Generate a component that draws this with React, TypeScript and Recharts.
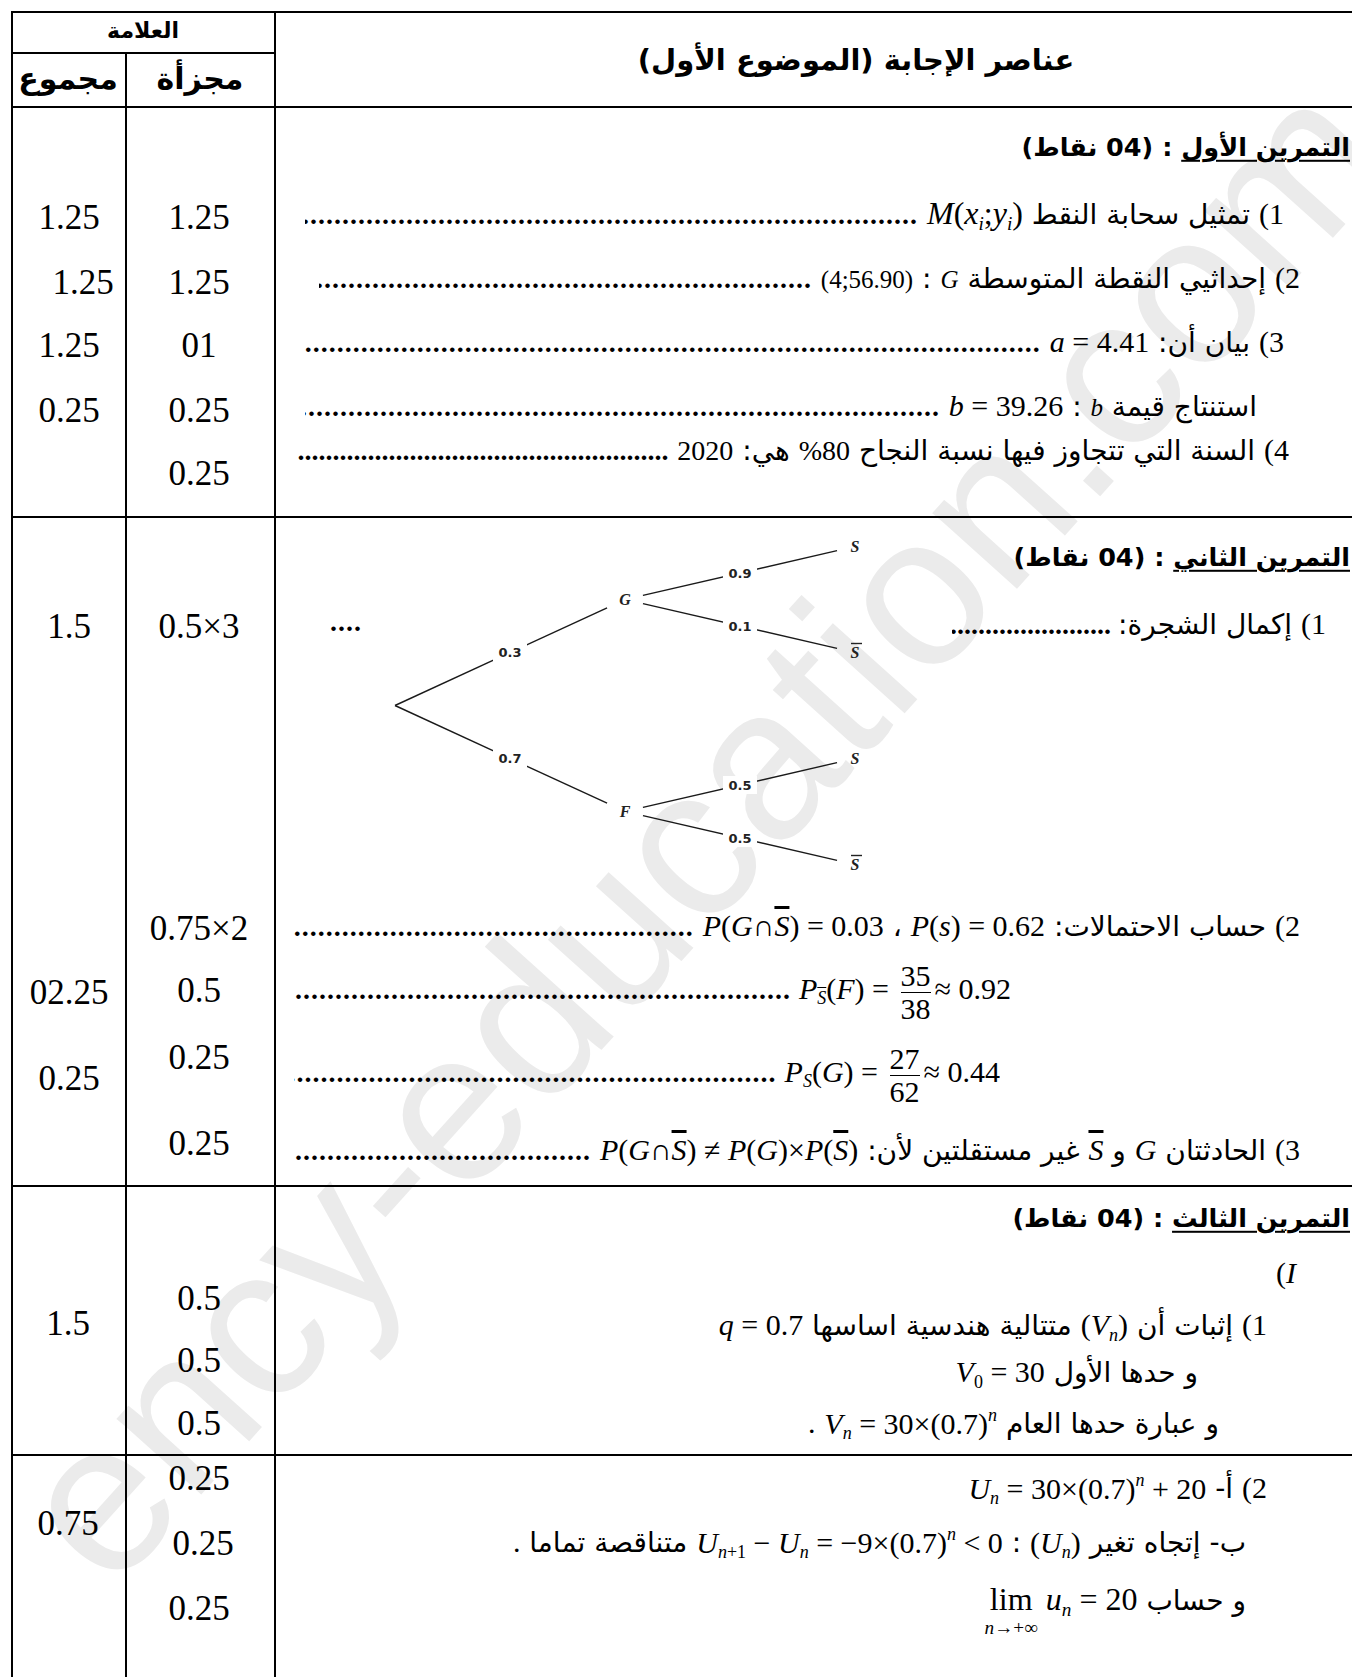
import React from 'react';
import { ComposedChart, XAxis, YAxis, ReferenceLine, Scatter } from 'recharts';

const W = 1352;
const H = 1677;

// ---------- grade values (left columns) ----------
const totalRow1 = ['1.25', '1.25', '1.25', '0.25'];
const partialRow1 = ['1.25', '1.25', '01', '0.25', '0.25'];
const totalRow2 = ['1.5', '02.25', '0.25'];
const partialRow2 = ['0.5×3', '0.75×2', '0.5', '0.25', '0.25'];
const totalRow3 = ['1.5'];
const partialRow3 = ['0.5', '0.5', '0.5'];
const totalRow4 = ['0.75'];
const partialRow4 = ['0.25', '0.25', '0.25'];

// ---------- probability tree ----------
const treeNodes = [
  { id: 'O', level: 0, pos: 0, name: '', bar: false },
  { id: 'G', level: 1, pos: 2, name: 'G', bar: false },
  { id: 'F', level: 1, pos: -2, name: 'F', bar: false },
  { id: 'GS', level: 2, pos: 3, name: 'S', bar: false },
  { id: 'GSb', level: 2, pos: 1, name: 'S', bar: true },
  { id: 'FS', level: 2, pos: -1, name: 'S', bar: false },
  { id: 'FSb', level: 2, pos: -3, name: 'S', bar: true },
];
const treeEdges = [
  { from: 'O', to: 'G', prob: '0.3' },
  { from: 'O', to: 'F', prob: '0.7' },
  { from: 'G', to: 'GS', prob: '0.9' },
  { from: 'G', to: 'GSb', prob: '0.1' },
  { from: 'F', to: 'FS', prob: '0.5' },
  { from: 'F', to: 'FSb', prob: '0.5' },
];

// ---------- layout (positions only) ----------
const yTotal1 = [217, 282, 345, 410];
const xTotal1 = [69, 83, 69, 69];
const yPartial1 = [217, 282, 345, 410, 473];
const yTotal2 = [626, 992, 1078];
const yPartial2 = [626, 928, 990, 1057, 1143];
const yTotal3 = [1323];
const yPartial3 = [1298, 1360, 1423];
const yTotal4 = [1523];
const yPartial4 = [1478, 1543, 1608];
const xPartial4 = [199, 203, 199];

const AR = '"DejaVu Sans", "Noto Sans", sans-serif';
const SERIF = '"Liberation Serif", "Times New Roman", serif';
const DOTS = '.'.repeat(240);
const AR_SIZE = 28;
const MATH_SIZE = 30;

const I = ({ children }: any) => <i style={{ fontFamily: SERIF }}>{children}</i>;
const Sub = ({ children }: any) => (
  <sub style={{ fontSize: '0.6em', verticalAlign: '-0.3em' }}>{children}</sub>
);
const Sup = ({ children }: any) => (
  <sup style={{ fontSize: '0.6em', verticalAlign: '0.7em' }}>{children}</sup>
);
const Over = ({ children }: any) => (
  <span style={{ textDecoration: 'overline' }}>
    <I>{children}</I>
  </span>
);
const M = ({ children, size = MATH_SIZE }: any) => (
  <span dir="ltr" style={{ fontFamily: SERIF, fontSize: size, whiteSpace: 'nowrap' }}>
    {children}
  </span>
);
const Num = ({ children }: any) => (
  <span style={{ fontFamily: SERIF, fontSize: MATH_SIZE }}>{children}</span>
);
const Frac = ({ n, d }: any) => (
  <span
    style={{
      display: 'inline-flex',
      flexDirection: 'column',
      alignItems: 'center',
      verticalAlign: 'middle',
      lineHeight: 1.05,
      margin: '0 4px',
    }}
  >
    <span>{n}</span>
    <span style={{ borderTop: '1.5px solid #000', width: '100%', height: 0 }} />
    <span>{d}</span>
  </span>
);

function HLine({ y, x1, x2 }: any) {
  return (
    <div style={{ position: 'absolute', left: x1, top: y - 1, width: x2 - x1, height: 2.2, background: '#000' }} />
  );
}
function VLine({ x, y1, y2 }: any) {
  return (
    <div style={{ position: 'absolute', left: x - 1, top: y1, width: 2.2, height: y2 - y1, background: '#000' }} />
  );
}
function Cell({ x, y, children, size = 35, style = {} }: any) {
  return (
    <div
      style={{
        position: 'absolute',
        left: x,
        top: y,
        transform: 'translate(-50%, -50%)',
        whiteSpace: 'nowrap',
        fontFamily: SERIF,
        fontSize: size,
        lineHeight: 1,
        ...style,
      }}
    >
      {children}
    </div>
  );
}
// RTL text line anchored at its right edge; optional dots fill until `left`
function TLine({ right, left, y, children, dots = false, size = AR_SIZE, style = {} }: any) {
  const base: React.CSSProperties = {
    position: 'absolute',
    top: y,
    transform: 'translateY(-50%)',
    direction: 'rtl',
    textAlign: 'right',
    whiteSpace: 'nowrap',
    fontFamily: AR,
    fontSize: size,
    lineHeight: 1.35,
    ...style,
  };
  if (left !== undefined) {
    base.left = left;
    base.width = right - left;
    base.overflow = 'hidden';
  } else {
    base.right = W - right;
  }
  return (
    <div style={base}>
      {children}
      {dots && (
        <span style={{ fontFamily: SERIF, fontSize: 28, fontWeight: 'bold', letterSpacing: 1 }}>
          {'  '}
          {DOTS}
        </span>
      )}
    </div>
  );
}
function Heading({ y, title }: any) {
  return (
    <TLine right={1350} y={y} size={25.5} style={{ fontWeight: 'bold' }}>
      <span style={{ textDecoration: 'underline', textUnderlineOffset: 4 }}>{title}</span>
      {' : (04 نقاط)'}
    </TLine>
  );
}

// ---------- tree chart ----------
const GAP = 0.078;
const nodeById = Object.fromEntries(treeNodes.map((n) => [n.id, n]));
const edgeSegments = treeEdges.map((e) => {
  const a = nodeById[e.from];
  const b = nodeById[e.to];
  const t0 = a.level === 0 ? 0 : GAP;
  const t1 = 1 - GAP;
  const lerp = (t: number) => ({ x: a.level + (b.level - a.level) * t, y: a.pos + (b.pos - a.pos) * t });
  const mid = lerp(0.5);
  return { seg: [lerp(t0), lerp(t1)], label: { x: mid.x, y: mid.y, prob: e.prob } };
});
const edgeLabels = edgeSegments.map((s) => s.label);
const nodePoints = treeNodes.filter((n) => n.name).map((n) => ({ x: n.level, y: n.pos, name: n.name, bar: n.bar }));

const ProbLabel = (props: any) => {
  const { cx, cy, payload } = props;
  return (
    <g>
      <rect x={cx - 17} y={cy - 9} width={34} height={18} fill="#fff" />
      <text
        x={cx}
        y={cy + 4.5}
        textAnchor="middle"
        fontFamily='"DejaVu Sans", sans-serif'
        fontWeight="bold"
        fontSize={13}
        fill="#222"
      >
        {payload.prob}
      </text>
    </g>
  );
};
const NodeLabel = (props: any) => {
  const { cx, cy, payload } = props;
  return (
    <g>
      <text
        x={cx}
        y={cy + 5.5}
        textAnchor="middle"
        fontFamily={SERIF}
        fontStyle="italic"
        fontWeight="bold"
        fontSize={16}
        fill="#222"
      >
        {payload.name}
      </text>
      {payload.bar && <line x1={cx - 4} x2={cx + 7} y1={cy - 9} y2={cy - 9} stroke="#222" strokeWidth={1.4} />}
    </g>
  );
};

function TreeChart() {
  return (
    <div style={{ position: 'absolute', left: 349, top: 519.5 }}>
      <ComposedChart width={552} height={371} margin={{ top: 0, right: 0, bottom: 0, left: 0 }}>
        <XAxis type="number" dataKey="x" domain={[-0.2, 2.2]} hide />
        <YAxis type="number" dataKey="y" domain={[-3.5, 3.5]} hide width={0} />
        {edgeSegments.map((s, i) => (
          <ReferenceLine key={i} segment={s.seg} stroke="#1a1a1a" strokeWidth={1.4} ifOverflow="visible" />
        ))}
        <Scatter data={edgeLabels} shape={ProbLabel} isAnimationActive={false} />
        <Scatter data={nodePoints} shape={NodeLabel} isAnimationActive={false} />
      </ComposedChart>
    </div>
  );
}

export default function App() {
  return (
    <div
      style={{
        position: 'absolute',
        left: 0,
        top: 0,
        width: W,
        height: H,
        overflow: 'hidden',
        background: '#fff',
        color: '#000',
      }}
    >
      {/* watermark */}
      <div
        style={{
          position: 'absolute',
          left: 700,
          top: 830,
          transform: 'translate(-50%, -50%) rotate(-48deg)',
          fontFamily: '"Liberation Sans", Arial, sans-serif',
          fontSize: 215,
          color: '#ebebeb',
          whiteSpace: 'nowrap',
        }}
      >
        ency-education.com
      </div>

      {/* table lines */}
      <HLine y={12} x1={11} x2={W} />
      <HLine y={53} x1={11} x2={276} />
      <HLine y={107} x1={11} x2={W} />
      <HLine y={517} x1={11} x2={W} />
      <HLine y={1186} x1={11} x2={W} />
      <HLine y={1455} x1={11} x2={W} />
      <VLine x={12} y1={11} y2={H} />
      <VLine x={126} y1={53} y2={H} />
      <VLine x={275} y1={11} y2={H} />

      {/* header */}
      <Cell x={143} y={31} size={22} style={{ fontFamily: AR, fontWeight: 'bold' }}>
        العلامة
      </Cell>
      <Cell x={68} y={79} size={30} style={{ fontFamily: AR, fontWeight: 'bold' }}>
        مجموع
      </Cell>
      <Cell x={200} y={79} size={30} style={{ fontFamily: AR, fontWeight: 'bold' }}>
        مجزأة
      </Cell>
      <Cell x={856} y={60} size={29} style={{ fontFamily: AR, fontWeight: 'bold', direction: 'rtl' }}>
        عناصر الإجابة (الموضوع الأول)
      </Cell>

      {/* grades */}
      {totalRow1.map((v, i) => (
        <Cell key={'t1' + i} x={xTotal1[i]} y={yTotal1[i]}>{v}</Cell>
      ))}
      {partialRow1.map((v, i) => (
        <Cell key={'p1' + i} x={199} y={yPartial1[i]}>{v}</Cell>
      ))}
      {totalRow2.map((v, i) => (
        <Cell key={'t2' + i} x={69} y={yTotal2[i]}>{v}</Cell>
      ))}
      {partialRow2.map((v, i) => (
        <Cell key={'p2' + i} x={199} y={yPartial2[i]}>{v}</Cell>
      ))}
      {totalRow3.map((v, i) => (
        <Cell key={'t3' + i} x={68} y={yTotal3[i]}>{v}</Cell>
      ))}
      {partialRow3.map((v, i) => (
        <Cell key={'p3' + i} x={199} y={yPartial3[i]}>{v}</Cell>
      ))}
      {totalRow4.map((v, i) => (
        <Cell key={'t4' + i} x={68} y={yTotal4[i]}>{v}</Cell>
      ))}
      {partialRow4.map((v, i) => (
        <Cell key={'p4' + i} x={xPartial4[i]} y={yPartial4[i]}>{v}</Cell>
      ))}

      {/* exercise 1 */}
      <Heading y={147} title="التمرين الأول" />
      <TLine right={1284} left={305} y={214} dots>
        <Num>1)</Num> تمثيل سحابة النقط{'  '}
        <M size={32}>
          <I>M</I>(<I>x</I>
          <Sub><I>i</I></Sub>;<I>y</I>
          <Sub><I>i</I></Sub>)
        </M>{'  '}
      </TLine>
      <TLine right={1300} left={319} y={278} dots>
        <Num>2)</Num> إحداثيي النقطة المتوسطة{'     '}
        <M size={25}><I>G</I></M>
        {' : '}
        <M size={25}>(4;56.90)</M>{'  '}
      </TLine>
      <TLine right={1284} left={305} y={342} dots>
        <Num>3)</Num> بيان أن:{'  '}
        <M><I>a</I> = 4.41</M>{'  '}
      </TLine>
      <TLine right={1257} left={305} y={406} dots>
        استنتاج قيمة <M size={25}><I>b</I></M> : <M><I>b</I> = 39.26</M>{'  '}
      </TLine>
      <TLine right={1289} left={297} y={450} dots>
        <Num>4)</Num> السنة التي تتجاوز فيها نسبة النجاح <M size={28}>%80</M> هي:{'  '}
        <M size={28}>2020</M>{'  '}
      </TLine>

      {/* exercise 2 */}
      <Heading y={557} title="التمرين الثاني" />
      <TLine right={1326} left={952} y={624} dots>
        <Num>1)</Num> إكمال الشجرة:
      </TLine>
      <div
        style={{
          position: 'absolute',
          left: 330,
          top: 606,
          fontFamily: SERIF,
          fontSize: 28,
          fontWeight: 'bold',
          letterSpacing: 1,
        }}
      >
        ....
      </div>
      <TreeChart />
      <TLine right={1300} left={294} y={926} dots>
        <Num>2)</Num> حساب الاحتمالات:{'  '}
        <M><I>P</I>(<I>s</I>) = 0.62</M>
        {'  ،  '}
        <M>
          <I>P</I>(<I>G</I>∩<Over>S</Over>) = 0.03
        </M>{'  '}
      </TLine>
      <TLine right={1011} left={294} y={992} dots>
        <M>
          <I>P</I>
          <Sub><Over>S</Over></Sub>(<I>F</I>) = <Frac n="35" d="38" />≈ 0.92
        </M>
      </TLine>
      <TLine right={1000} left={294} y={1075} dots>
        <M>
          <I>P</I>
          <Sub><I>S</I></Sub>(<I>G</I>) = <Frac n="27" d="62" />≈ 0.44
        </M>
      </TLine>
      <TLine right={1300} left={294} y={1150} dots>
        <Num>3)</Num> الحادثتان <M><I>G</I></M> و <M><Over>S</Over></M> غير مستقلتين لأن:{'  '}
        <M>
          <I>P</I>(<I>G</I>∩<Over>S</Over>) ≠ <I>P</I>(<I>G</I>)×<I>P</I>(<Over>S</Over>)
        </M>{'  '}
      </TLine>

      {/* exercise 3 */}
      <Heading y={1218} title="التمرين الثالث" />
      <TLine right={1296} y={1273}>
        <M><I>I</I></M>
        <Num>)</Num>
      </TLine>
      <TLine right={1267} y={1326}>
        <Num>1)</Num> إثبات أن{' '}
        <M>
          (<I>V</I>
          <Sub><I>n</I></Sub>)
        </M>{'  '}
        متتالية هندسية اساسها <M><I>q</I> = 0.7</M>
      </TLine>
      <TLine right={1198} y={1373}>
        و حدها الأول{' '}
        <M>
          <I>V</I>
          <Sub>0</Sub> = 30
        </M>
      </TLine>
      <TLine right={1219} y={1424}>
        و{'  '}عبارة حدها العام{' '}
        <M>
          <I>V</I>
          <Sub><I>n</I></Sub> = 30×(0.7)<Sup><I>n</I></Sup>
        </M>{' '}
        <Num>.</Num>
      </TLine>

      {/* exercise 3 part 2 */}
      <TLine right={1267} y={1489}>
        <Num>2)</Num> أ-{' '}
        <M>
          <I>U</I>
          <Sub><I>n</I></Sub> = 30×(0.7)<Sup><I>n</I></Sup> + 20
        </M>
      </TLine>
      <TLine right={1246} y={1543}>
        ب- إتجاه تغير{' '}
        <M>
          (<I>U</I>
          <Sub><I>n</I></Sub>)
        </M>
        {' : '}
        <M>
          <I>U</I>
          <Sub><I>n</I>+1</Sub> − <I>U</I>
          <Sub><I>n</I></Sub> = −9×(0.7)<Sup><I>n</I></Sup> &lt; 0
        </M>
        {'   '}متناقصة تماما <Num>.</Num>
      </TLine>
      <TLine right={1246} y={1608}>
        و حساب{'      '}
        <M size={32}>
          <span
            style={{
              display: 'inline-flex',
              flexDirection: 'column',
              alignItems: 'center',
              lineHeight: 1.1,
            }}
          >
            <span>lim</span>
            <span style={{ fontSize: '0.6em' }}>
              <I>n</I>→+∞
            </span>
          </span>{' '}
          <I>u</I>
          <Sub><I>n</I></Sub> = 20
        </M>
      </TLine>
    </div>
  );
}
